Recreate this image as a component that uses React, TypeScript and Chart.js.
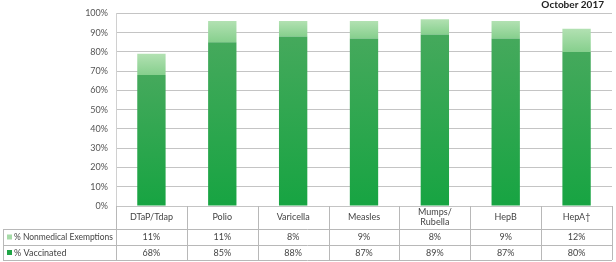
import React, { useEffect, useRef } from "react";
import { Chart, registerables } from "chart.js";

Chart.register(...registerables);

const categories: (string | string[])[] = [
  "DTaP/Tdap",
  "Polio",
  "Varicella",
  "Measles",
  ["Mumps/", "Rubella"],
  "HepB",
  "HepA\u2020",
];
const vaccinated = [68, 85, 88, 87, 89, 87, 80];
const exemptions = [11, 11, 8, 9, 8, 9, 12];
const seriesNames = ["% Nonmedical Exemptions", "% Vaccinated"];
const titleText = "October 2017";

const FONT = 'Lato, "Open Sans", "Liberation Sans", sans-serif';

function vertGrad(chart: any, top: number, bottom: number, c1: string, c2: string) {
  const g = chart.ctx.createLinearGradient(0, top, 0, bottom);
  g.addColorStop(0, c1);
  g.addColorStop(1, c2);
  return g;
}

const tablePlugin = {
  id: "dataTable",
  afterDraw(chart: any) {
    const { ctx, chartArea, scales } = chart;
    const x = scales.x;
    const n = categories.length;
    const catW = (chartArea.right - chartArea.left) / n;
    const rowTop = chartArea.bottom;
    const r1 = rowTop + 23;
    const r2 = r1 + 16;
    const r3 = r2 + 15;
    const leftX = 3;
    ctx.save();
    ctx.strokeStyle = "#b8b8b8";
    ctx.lineWidth = 1;
    ctx.beginPath();
    for (let i = 0; i <= n; i++) {
      const bx = Math.round(chartArea.left + i * catW) + 0.5;
      ctx.moveTo(bx, rowTop);
      ctx.lineTo(bx, r3);
    }
    ctx.moveTo(leftX + 0.5, r1);
    ctx.lineTo(leftX + 0.5, r3);
    [r1, r2, r3].forEach((yy) => {
      ctx.moveTo(leftX, Math.round(yy) + 0.5);
      ctx.lineTo(chartArea.right, Math.round(yy) + 0.5);
    });
    ctx.stroke();

    ctx.fillStyle = "#444";
    ctx.textAlign = "center";
    ctx.textBaseline = "middle";
    ctx.font = `9px ${FONT}`;
    for (let i = 0; i < n; i++) {
      const cx = x.getPixelForValue(i);
      const lab = categories[i];
      const lines = Array.isArray(lab) ? lab : [lab];
      const mid = (rowTop + r1) / 2;
      lines.forEach((ln, k) => {
        ctx.fillText(ln, cx, mid + (k - (lines.length - 1) / 2) * 10);
      });
      ctx.fillText(exemptions[i] + "%", cx, (r1 + r2) / 2 + 0.5);
      ctx.fillText(vaccinated[i] + "%", cx, (r2 + r3) / 2 + 0.5);
    }
    // legend keys
    ctx.textAlign = "left";
    ctx.fillStyle = "#a6dba8";
    ctx.fillRect(7, (r1 + r2) / 2 - 2.5, 5, 5);
    ctx.fillStyle = "#1fa546";
    ctx.fillRect(7, (r2 + r3) / 2 - 2.5, 5, 5);
    ctx.fillStyle = "#444";
    ctx.fillText(seriesNames[0], 14, (r1 + r2) / 2 + 0.5, chartArea.left - 17);
    ctx.fillText(seriesNames[1], 14, (r2 + r3) / 2 + 0.5);

    // title
    ctx.font = `bold 10px ${FONT}`;
    ctx.textAlign = "right";
    const tw = ctx.measureText(titleText).width;
    ctx.fillStyle = "#fff";
    ctx.fillRect(604 - tw - 2, 0, tw + 4, 9);
    ctx.fillStyle = "#222";
    ctx.fillText(titleText, 604, 5);
    ctx.restore();
  },
};

export default function App() {
  const ref = useRef<HTMLCanvasElement>(null);
  useEffect(() => {
    if (!ref.current) return;
    const chart = new Chart(ref.current, {
      type: "bar",
      data: {
        labels: categories as any,
        datasets: [
          {
            label: seriesNames[1],
            data: vaccinated,
            backgroundColor: (c: any) => {
              const ch = c.chart;
              if (!ch.chartArea || c.dataIndex === undefined) return "#1fa546";
              const y = ch.scales.y;
              const v = vaccinated[c.dataIndex];
              return vertGrad(ch, y.getPixelForValue(v), y.getPixelForValue(0), "#45a95c", "#17a442");
            },
            barPercentage: 0.4,
            categoryPercentage: 1,
          },
          {
            label: seriesNames[0],
            data: exemptions,
            backgroundColor: (c: any) => {
              const ch = c.chart;
              if (!ch.chartArea || c.dataIndex === undefined) return "#a6dba8";
              const y = ch.scales.y;
              const v = vaccinated[c.dataIndex];
              const e = exemptions[c.dataIndex];
              return vertGrad(ch, y.getPixelForValue(v + e), y.getPixelForValue(v), "#b2e1b2", "#86cf8d");
            },
            barPercentage: 0.4,
            categoryPercentage: 1,
          },
        ],
      },
      options: {
        animation: false,
        responsive: false,
        maintainAspectRatio: false,
        layout: { padding: { left: 0, right: 4, top: 6, bottom: 32 } },
        plugins: {
          legend: { display: false },
          tooltip: { enabled: false },
          title: { display: false },
        },
        scales: {
          x: {
            stacked: true,
            grid: { display: false },
            border: { display: false },
            ticks: { display: false },
            afterFit: (s: any) => {
              s.height = 24;
            },
          },
          y: {
            stacked: true,
            min: 0,
            max: 100,
            ticks: {
              stepSize: 10,
              callback: (v: any) => v + "%",
              font: { size: 9, family: FONT },
              color: "#555",
              padding: 8,
            },
            grid: { color: "#c4c4c4", drawTicks: false },
            border: { display: true, color: "#d0d0d0" },
            afterFit: (s: any) => {
              s.width = 116;
            },
          },
        },
      },
      plugins: [tablePlugin],
    });
    return () => chart.destroy();
  }, []);
  return (
    <div style={{ position: "fixed", left: 0, top: 0, width: 616, height: 262, background: "#fff" }}>
      <canvas ref={ref} width={616} height={262} style={{ width: 616, height: 262 }} />
    </div>
  );
}
